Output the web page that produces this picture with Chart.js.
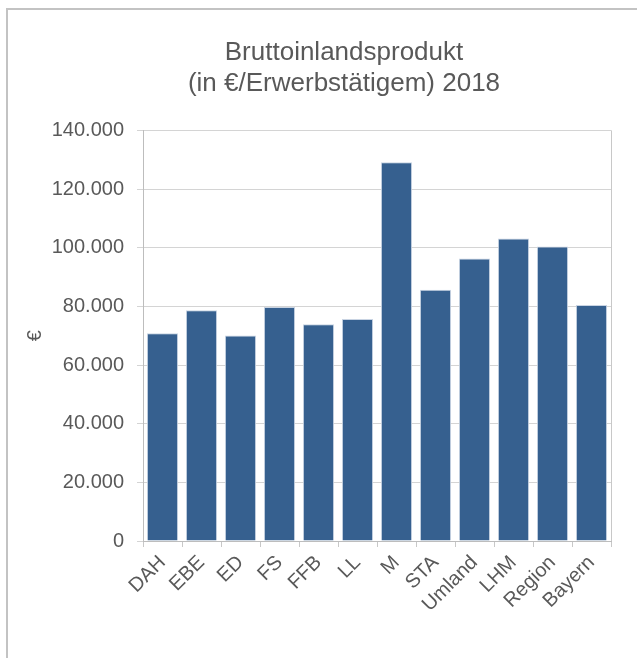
<!DOCTYPE html>
<html>
<head>
<meta charset="utf-8">
<script src="https://cdn.jsdelivr.net/npm/chart.js@4/dist/chart.umd.min.js"></script>
<style>
  html, body { margin: 0; padding: 0; background: #fff; overflow: hidden; }
  #frame {
    position: absolute; left: 6px; top: 8px; width: 700px; height: 700px;
    border-left: 2px solid #c3c3c3; border-top: 2px solid #c3c3c3;
  }
  #wrap { position: absolute; left: 0; top: 0; width: 637px; height: 658px; }
</style>
</head>
<body>
<div id="frame"></div>
<div id="wrap"><canvas id="bip_chart"></canvas></div>
<script>
// BIP je Erwerbstaetigem 2018
const categories = ["DAH", "EBE", "ED", "FS", "FFB", "LL", "M", "STA", "Umland", "LHM", "Region", "Bayern"];
const bip_values = [70800, 78700, 70100, 79800, 73900, 75700, 129100, 85700, 96300, 103100, 100400, 80500];
const y_ticks = [0, 20000, 40000, 60000, 80000, 100000, 120000, 140000];
const title_lines = ["Bruttoinlandsprodukt", "(in €/Erwerbstätigem) 2018"];

const TEXT_COLOR = "#595959";
const FONT = "'Liberation Sans', Arial, sans-serif";

function fmt_de(v) {
  return v.toString().replace(/\B(?=(\d{3})+(?!\d))/g, ".");
}

// right edge line of the plot area + shift title to the excel position
const plot_frame = {
  id: "plot_frame",
  afterLayout(chart) {
    if (chart.titleBlock) {
      chart.titleBlock.left = 51;
      chart.titleBlock.right = 637;
    }
  },
  afterDatasetsDraw(chart) {
    const a = chart.chartArea;
    const ctx = chart.ctx;
    ctx.save();
    ctx.strokeStyle = "#c8c8c8";
    ctx.lineWidth = 1;
    ctx.beginPath();
    ctx.moveTo(Math.round(a.right) + 0.5, a.top);
    ctx.lineTo(Math.round(a.right) + 0.5, a.bottom);
    ctx.stroke();
    ctx.restore();
  }
};

(() => {
  Chart.defaults.font.family = FONT;
  Chart.defaults.color = TEXT_COLOR;

  const ctx = document.getElementById("bip_chart").getContext("2d");
  new Chart(ctx, {
    type: "bar",
    data: {
      labels: categories,
      datasets: [{
        data: bip_values,
        backgroundColor: "#36608f",
        borderColor: "#c9d4e3",
        borderWidth: 1,
        barPercentage: 0.8,
        categoryPercentage: 1.0
      }]
    },
    options: {
      responsive: true,
      maintainAspectRatio: false,
      animation: false,
      layout: { padding: { left: 19, right: 26, top: 27, bottom: 0 } },
      plugins: {
        legend: { display: false },
        tooltip: { enabled: false },
        title: {
          display: true,
          text: title_lines,
          color: TEXT_COLOR,
          font: { size: 26, weight: "normal", lineHeight: 1.2 },
          padding: { top: 10, bottom: 31 }
        }
      },
      scales: {
        x: {
          grid: {
            offset: true,
            drawOnChartArea: false,
            drawTicks: true,
            tickLength: 6,
            color: "#c8c8c8"
          },
          border: { color: "#bdbdbd", width: 1 },
          ticks: {
            font: { size: 20 },
            color: TEXT_COLOR,
            minRotation: 45,
            maxRotation: 45,
            padding: 4,
            autoSkip: false
          },
          afterFit(scale) { scale.height = 117; }
        },
        y: {
          min: 0,
          max: 140000,
          afterBuildTicks(scale) {
            scale.ticks = y_ticks.map(v => ({ value: v }));
          },
          grid: {
            color: "#d4d4d4",
            tickLength: 6,
            drawTicks: true
          },
          border: { color: "#bdbdbd", width: 1 },
          ticks: {
            font: { size: 20 },
            color: TEXT_COLOR,
            padding: 13,
            callback: v => fmt_de(v)
          },
          title: {
            display: true,
            text: "€",
            color: TEXT_COLOR,
            font: { size: 20 },
            padding: { top: 4, bottom: 4 }
          },
          afterFit(scale) { scale.width = 124; }
        }
      }
    },
    plugins: [plot_frame]
  });
})();
</script>
</body>
</html>
